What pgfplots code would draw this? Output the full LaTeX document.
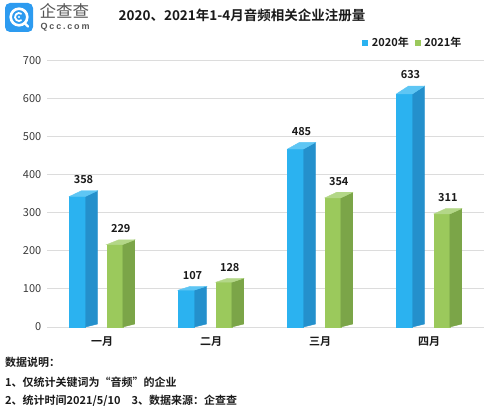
\documentclass[border=0pt]{standalone}
\usepackage{pgfplots}
\pgfplotsset{compat=1.18}
\usepackage{pgfplotstable}
\usepackage{fontspec}
\setmainfont{Noto Sans CJK SC}[BoldFont={Noto Sans CJK SC Bold}]
\newfontfamily\latinfont{Liberation Sans}
\definecolor{bfront}{HTML}{2BB2F0}
\definecolor{bside}{HTML}{2490CC}
\definecolor{btop}{HTML}{5EC6F4}
\definecolor{gfront}{HTML}{9BC95C}
\definecolor{gside}{HTML}{7BA548}
\definecolor{gtop}{HTML}{B3D787}
\definecolor{gridgray}{HTML}{DCDCDC}
\definecolor{txt}{HTML}{1A1A1A}
\definecolor{ticktxt}{HTML}{3A3A3A}
\definecolor{logoblue}{HTML}{2D9BF0}
\definecolor{logogray}{HTML}{555555}
\pgfdeclareplotmark{none3d}{}
\newcommand\valfont{\bfseries\fontsize{11}{13}\selectfont}
\newcommand\barthreed[4]{%
  \pgfmathtruncatemacro\vv{round(\val)}%
  \pgfmathsetmacro\h{\val*0.3807}%
  \pgfmathsetmacro\dy{3+0.02*\h}%
  \pgfmathsetmacro\xa{#4-8}%
  \pgfmathsetmacro\xb{#4+8}%
  \pgfmathsetmacro\xc{#4+20}%
  \pgfmathsetmacro\xd{#4+4}%
  \pgfmathsetmacro\xe{#4+6}%
  \fill[#1] (\xa pt,{-\h*1pt}) rectangle (\xb pt,{-\dy*1pt});
  \fill[#2] (\xb pt,{-\h*1pt}) -- (\xc pt,{3pt-\h*1pt}) -- (\xc pt,0pt) -- (\xb pt,{-\dy*1pt}) -- cycle;
  \fill[#3] (\xa pt,{-\dy*1pt}) -- (\xb pt,{-\dy*1pt}) -- (\xc pt,0pt) -- (\xd pt,0pt) -- cycle;
  \node[font=\valfont, text=txt, inner sep=0pt] at (\xe pt,11pt) {\vv};}
\pgfplotstableread{
x a b
0 358 229
1 107 128
2 485 354
3 633 311
}\datatable
\begin{document}
\begin{tikzpicture}[x=1pt,y=1pt]
\useasboundingbox (0,0) rectangle (500,415);
% logo
\fill[logoblue, rounded corners=5pt] (5,383) rectangle (33,412);
\draw[white, line width=2.6pt] (19,398) circle (8.3);
\draw[white, line width=2.4pt, line cap=round] (24.5,392) -- (28,388.5);
\draw[white, line width=1.8pt] (19,398) ++(50:4) arc (50:310:4);
\fill[white] (19,398) circle (1.1);
\node[anchor=west, inner sep=0pt, text=logogray, font=\fontsize{16.5}{18}\selectfont] at (39.5,404.5) {企查查};
\node[anchor=west, inner sep=0pt, text=logogray, font=\latinfont\bfseries\fontsize{9}{10}\selectfont\addfontfeatures{LetterSpace=20}] at (40.5,388) {Qcc.com};
% title
\node[font=\bfseries\fontsize{13.5}{15}\selectfont, text=txt] at (242,400) {2020、2021年1-4月音频相关企业注册量};
% footer
\node[anchor=west, inner sep=0pt, font=\bfseries\fontsize{11}{13}\selectfont, text=txt] at (5,53) {数据说明：};
\node[anchor=west, inner sep=0pt, font=\bfseries\fontsize{11}{13}\selectfont, text=txt] at (5,33) {1、仅统计关键词为“音频”的企业};
\node[anchor=west, inner sep=0pt, font=\bfseries\fontsize{11}{13}\selectfont, text=txt] at (5,14) {2、统计时间2021/5/10\quad 3、数据来源：企查查};
\begin{axis}[
  at={(47.5pt,88pt)}, anchor=south west,
  x=109pt, y=0.3807pt,
  xmin=-0.5, xmax=3.5, ymin=0, ymax=700,
  clip=false,
  axis line style={draw=none},
  ymajorgrids,
  grid style={draw=gridgray, line width=0.9pt},
  major tick length=0pt,
  ytick={0,100,...,700},
  xtick={0,1,2,3},
  xticklabels={一月,二月,三月,四月},
  /pgf/number format/assume math mode=true,
  yticklabel style={font=\fontsize{11}{13}\selectfont, text=ticktxt, inner sep=0pt, anchor=east, xshift=-6pt},
  xticklabel style={font=\bfseries\fontsize{11}{13}\selectfont, text=txt, inner sep=0pt, anchor=center, yshift=-15pt},
  legend style={draw=none, fill=none, at={(0.7213,1.0675)}, anchor=west, legend columns=2,
    font=\bfseries\fontsize{11}{13}\selectfont, text=txt, inner sep=0pt,
    /tikz/every odd column/.append style={column sep=2pt},
    /tikz/every even column/.append style={column sep=4pt}},
  legend cell align=left,
]
\addplot[only marks, mark=none3d, scatter,
  visualization depends on={rawy \as \val},
  scatter/@pre marker code/.code={\barthreed{bfront}{bside}{btop}{-24.5}},
  scatter/@post marker code/.code={},
  legend image code/.code={\fill[bfront] (0pt,-2.6pt) rectangle (5.2pt,2.6pt);}]
  table[x=x,y=a]{\datatable};
\addlegendentry{2020年}
\addplot[only marks, mark=none3d, scatter,
  visualization depends on={rawy \as \val},
  scatter/@pre marker code/.code={\barthreed{gfront}{gside}{gtop}{12.75}},
  scatter/@post marker code/.code={},
  legend image code/.code={\fill[gfront] (0pt,-2.6pt) rectangle (5.2pt,2.6pt);}]
  table[x=x,y=b]{\datatable};
\addlegendentry{2021年}
\end{axis}
\end{tikzpicture}
\end{document}
